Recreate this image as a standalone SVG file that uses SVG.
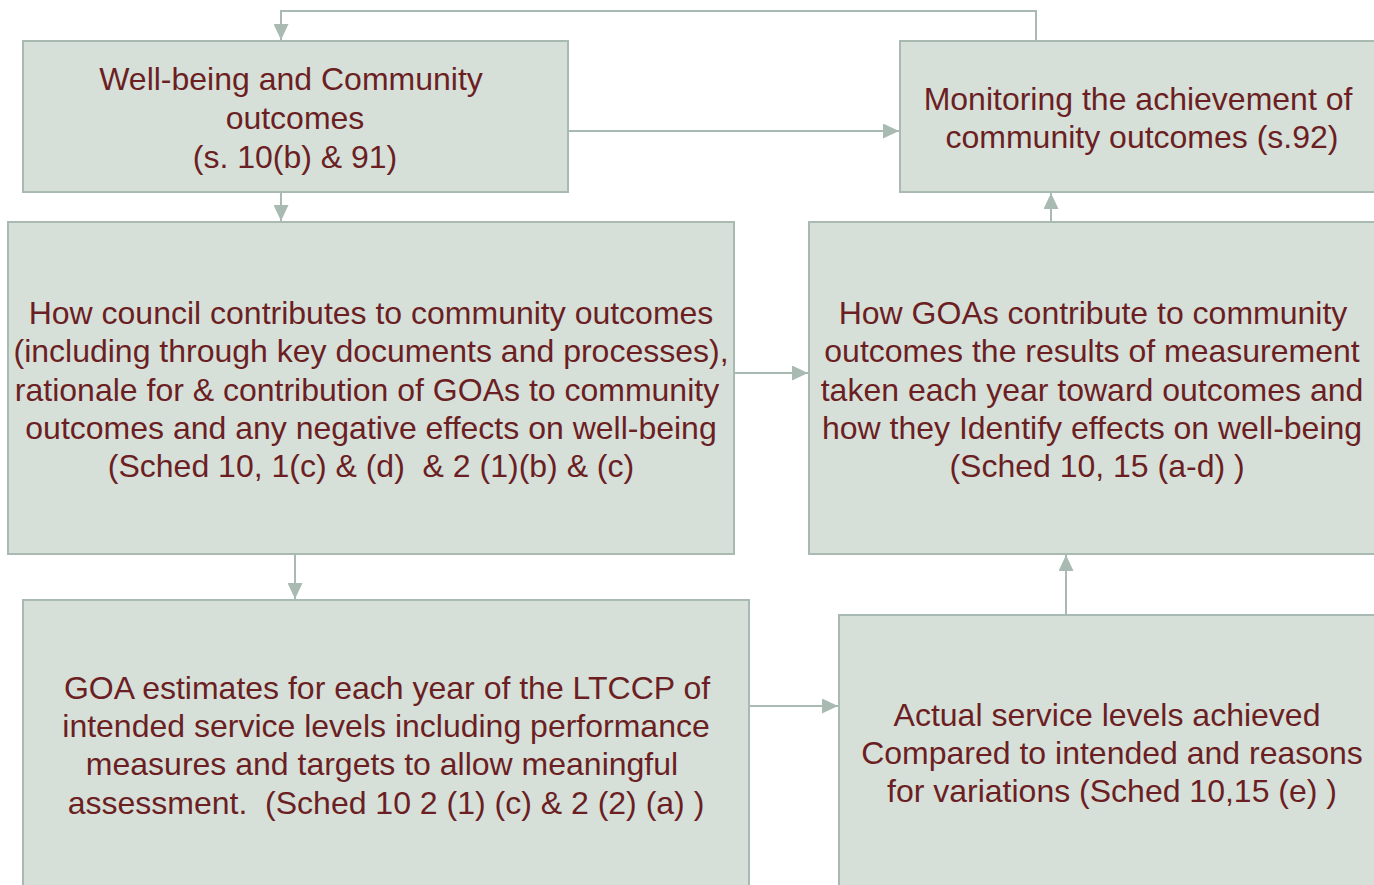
<svg xmlns="http://www.w3.org/2000/svg" width="1374" height="885" viewBox="0 0 1374 885">
<style>
.box{fill:#D6E0D9;stroke:#A8BAB2;stroke-width:2}
.t{font-family:"Liberation Sans",Arial,sans-serif;font-size:32px;fill:#6B1F23;text-anchor:middle;white-space:pre}
.c{fill:none;stroke:#A8BAB2;stroke-width:2}
</style>
<defs>
<marker id="ah" viewBox="0 0 16 15" refX="16" refY="7.5" markerWidth="16" markerHeight="15" markerUnits="userSpaceOnUse" orient="auto">
<path d="M0,0 L16,7.5 L0,15 z" fill="#A8BAB2"/>
</marker>
</defs>
<rect width="1374" height="885" fill="#FFFFFF"/>
<g id="connectors">
<path class="c" d="M1036,41 V11 H281 V40" marker-end="url(#ah)"/>
<path class="c" d="M568,131 H899" marker-end="url(#ah)"/>
<path class="c" d="M281,192 V221" marker-end="url(#ah)"/>
<path class="c" d="M1051,222 V193" marker-end="url(#ah)"/>
<path class="c" d="M734,373 H808" marker-end="url(#ah)"/>
<path class="c" d="M295,554 V599" marker-end="url(#ah)"/>
<path class="c" d="M749,706 H838" marker-end="url(#ah)"/>
<path class="c" d="M1066,615 V555" marker-end="url(#ah)"/>
</g>
<g id="node-wellbeing">
<rect class="box" x="23" y="41" width="545" height="151"/>
<text class="t" x="291" y="90">Well-being and Community</text>
<text class="t" x="295" y="129">outcomes</text>
<text class="t" x="295" y="168">(s. 10(b) &amp; 91)</text>
</g>
<g id="node-monitoring">
<rect class="box" x="900" y="41" width="480" height="151"/>
<text class="t" x="1138" y="110">Monitoring the achievement of</text>
<text class="t" x="1142" y="148">community outcomes (s.92)</text>
</g>
<g id="node-council">
<rect class="box" x="8" y="222" width="726" height="332"/>
<text class="t" x="371" y="324">How council contributes to community outcomes</text>
<text class="t" x="371" y="362">(including through key documents and processes),</text>
<text class="t" x="367" y="401">rationale for &amp; contribution of GOAs to community</text>
<text class="t" x="371" y="439">outcomes and any negative effects on well-being</text>
<text class="t" x="371" y="477">(Sched 10, 1(c) &amp; (d)  &amp; 2 (1)(b) &amp; (c)</text>
</g>
<g id="node-goas">
<rect class="box" x="809" y="222" width="571" height="332"/>
<text class="t" x="1093" y="324">How GOAs contribute to community</text>
<text class="t" x="1092" y="362">outcomes the results of measurement</text>
<text class="t" x="1092" y="401">taken each year toward outcomes and</text>
<text class="t" x="1092" y="439">how they Identify effects on well-being</text>
<text class="t" x="1097" y="477">(Sched 10, 15 (a-d) )</text>
</g>
<g id="node-estimates">
<rect class="box" x="23" y="600" width="726" height="292"/>
<text class="t" x="387" y="699">GOA estimates for each year of the LTCCP of</text>
<text class="t" x="386" y="737">intended service levels including performance</text>
<text class="t" x="382" y="775">measures and targets to allow meaningful</text>
<text class="t" x="386" y="814">assessment.  (Sched 10 2 (1) (c) &amp; 2 (2) (a) )</text>
</g>
<g id="node-actual">
<rect class="box" x="839" y="615" width="541" height="277"/>
<text class="t" x="1107" y="726">Actual service levels achieved</text>
<text class="t" x="1112" y="764">Compared to intended and reasons</text>
<text class="t" x="1112" y="802">for variations (Sched 10,15 (e) )</text>
</g>
</svg>
